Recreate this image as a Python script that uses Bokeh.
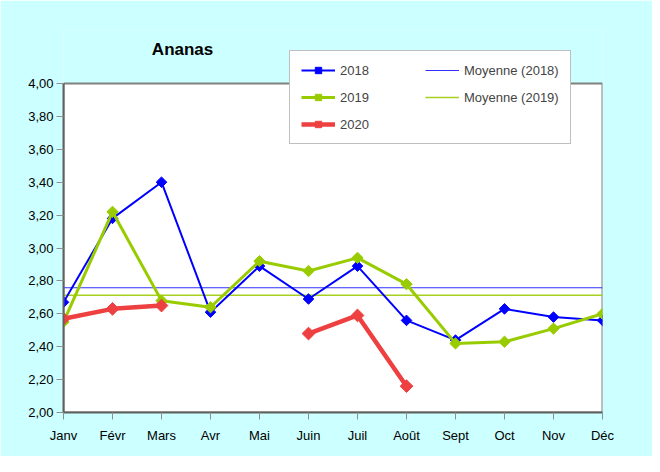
import numpy as np
from bokeh.plotting import figure
from bokeh.models import (FixedTicker, Legend, LegendItem, Range1d, Label,
                          CustomJSTickFormatter)
from bokeh.embed import file_html
from bokeh.resources import INLINE

months = ["Janv", "Févr", "Mars", "Avr", "Mai", "Juin", "Juil", "Août",
          "Sept", "Oct", "Nov", "Déc"]
y2018 = [2.67, 3.18, 3.40, 2.61, 2.89, 2.69, 2.89, 2.56, 2.44, 2.63, 2.58, 2.56]
y2019 = [2.55, 3.22, 2.68, 2.64, 2.92, 2.86, 2.94, 2.78, 2.42, 2.43, 2.51, 2.60]
y2020 = [2.57, 2.63, 2.65, None, None, 2.48, 2.59, 2.16, None, None, None, None]
y_ticks = [2.0, 2.2, 2.4, 2.6, 2.8, 3.0, 3.2, 3.4, 3.6, 3.8, 4.0]
Y_MIN, Y_MAX = 2.0, 4.0

FONT = "Liberation Sans"
CYAN = "#CCFFFF"
BLUE = "#0000FF"
GREEN = "#99CC00"
RED = "#EE4040"

x = np.arange(len(months))
a2018 = np.array(y2018, dtype=float)
a2019 = np.array(y2019, dtype=float)
a2020 = np.array([np.nan if v is None else v for v in y2020], dtype=float)
mean2018 = float(np.mean(a2018))
mean2019 = float(np.mean(a2019))

# layout (pixels)
W, H = 652, 456
FRAME_TOP, FRAME_BOTTOM = 30, 412       # frame extends above the 4,00 line
PLOT_TOP = 83                           # where 4,00 sits
px_per_unit = (FRAME_BOTTOM - PLOT_TOP) / (Y_MAX - Y_MIN)
y_top = Y_MIN + (FRAME_BOTTOM - FRAME_TOP) / px_per_unit

p = figure(width=W, height=H, output_backend="svg", toolbar_location=None,
           x_range=Range1d(0, len(months) - 1), y_range=Range1d(Y_MIN, y_top),
           min_border_left=63, min_border_right=50, min_border_top=FRAME_TOP,
           min_border_bottom=H - FRAME_BOTTOM)
p.background_fill_color = CYAN
p.border_fill_color = CYAN
p.outline_line_color = None
p.xgrid.visible = False
p.ygrid.visible = False

# white plot area with grey border
p.quad(left=[0], right=[len(months) - 1], bottom=[Y_MIN], top=[Y_MAX],
       fill_color="white", line_color="#808080", line_width=2)

# axes
p.xaxis.ticker = FixedTicker(ticks=list(range(len(months))))
p.xaxis.major_label_overrides = {i: m for i, m in enumerate(months)}
p.yaxis.ticker = FixedTicker(ticks=y_ticks)
p.yaxis.bounds = (Y_MIN, Y_MAX)
p.yaxis.formatter = CustomJSTickFormatter(code="return tick.toFixed(2).replace('.', ',');")
for ax in (p.xaxis[0], p.yaxis[0]):
    ax.axis_line_color = "#606060"
    ax.axis_line_width = 2
    ax.major_tick_line_color = "#909090"
    ax.major_tick_line_width = 1
    ax.major_tick_out = 7
    ax.major_tick_in = 0
    ax.minor_tick_line_color = None
    ax.major_label_text_font = FONT
    ax.major_label_text_font_size = "13px"
    ax.major_label_text_color = "#000000"
p.xaxis.major_label_standoff = 8
p.yaxis.major_label_standoff = 3

# mean lines
r_m18 = p.line([x[0], x[-1]], [mean2018, mean2018], line_color="#3030FF", line_width=1.2)
r_m19 = p.line([x[0], x[-1]], [mean2019, mean2019], line_color="#A8D020", line_width=1.5)

# series
r18l = p.line(x, a2018, line_color=BLUE, line_width=2)
r18m = p.scatter(x, a2018, marker="square", angle=np.pi / 4, size=7.5,
                 fill_color=BLUE, line_color=BLUE)
r19l = p.line(x, a2019, line_color=GREEN, line_width=3)
r19m = p.scatter(x, a2019, marker="square", angle=np.pi / 4, size=8,
                 fill_color=GREEN, line_color=GREEN)
r20l = p.line(x, a2020, line_color=RED, line_width=4.5)
r20m = p.scatter(x, a2020, marker="square", angle=np.pi / 4, size=9,
                 fill_color=RED, line_color=RED)

legend = Legend(items=[
    LegendItem(label="2018", renderers=[r18l, r18m]),
    LegendItem(label="2019", renderers=[r19l, r19m]),
    LegendItem(label="2020", renderers=[r20l, r20m]),
    LegendItem(label="Moyenne (2018)", renderers=[r_m18]),
    LegendItem(label="Moyenne (2019)", renderers=[r_m19]),
], location=(226, 268), orientation="vertical", nrows=3)
legend.border_line_color = "#808080"
legend.border_line_width = 1
legend.background_fill_color = "white"
legend.background_fill_alpha = 1
legend.label_text_font = FONT
legend.label_text_font_size = "13px"
legend.glyph_width = 34
legend.glyph_height = 16
legend.spacing = 11
legend.padding = 11
legend.margin = 0
legend.label_standoff = 5
legend.label_width = 74
p.add_layout(legend, "center")

# title
title_y = Y_MIN + (FRAME_BOTTOM - 49) / px_per_unit
p.add_layout(Label(x=2.43, y=title_y, text="Ananas", text_font=FONT,
                   text_font_size="17px", text_font_style="bold",
                   text_align="center", text_baseline="middle",
                   text_color="black"))

open("out.html", "w").write(file_html(p, INLINE))
